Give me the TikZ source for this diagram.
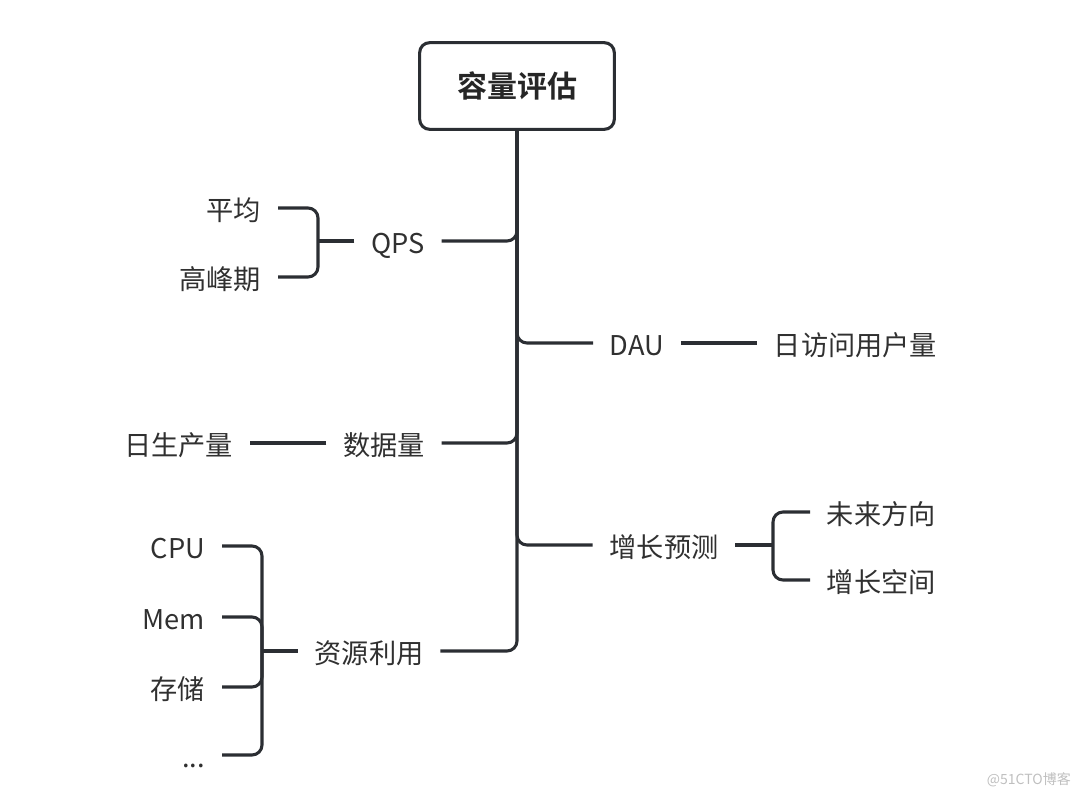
\documentclass[tikz,border=0pt]{standalone}
\usepackage{fontspec}
\newfontfamily\cjk{Noto Sans CJK SC}[BoldFont={Noto Sans CJK SC Bold}]
\usepackage{tikz}
\usepackage{xcolor}
\definecolor{ink}{HTML}{2B2E33}
\definecolor{txt}{HTML}{303030}

\begin{document}
\begin{tikzpicture}[x=0.75pt,y=-0.75pt,
  item/.style={font=\cjk\fontsize{20.4pt}{24pt}\selectfont,text=txt,inner xsep=12.5pt,inner ysep=0pt,text height=20pt,text depth=1pt},
  rootbox/.style={draw=ink,line width=2.3pt,rounded corners=7.5pt,minimum width=146pt,minimum height=65pt,font=\cjk\bfseries\fontsize{22.5pt}{26pt}\selectfont,text=black!85},
  link/.style={draw=ink,line width=2.3pt,rounded corners=7.5pt},
  wmark/.style={font=\cjk\fontsize{10.5pt}{12pt}\selectfont,text=black!25,inner sep=0pt}]
\useasboundingbox (0,0) rectangle (1080,798);
\node[rootbox](root) at (517,86) {容量评估};
%% branches
\node[item](qps) at (398,241) {QPS};
\node[item](dau) at (637,343) {DAU};
\node[item](data) at (384,443) {数据量};
\node[item](grow) at (664,545) {增长预测};
\node[item](res) at (369,651) {资源利用};
\draw[link](root.south) |- (qps.east);
\draw[link](root.south) |- (dau.west);
\draw[link](root.south) |- (data.east);
\draw[link](root.south) |- (grow.west);
\draw[link](root.south) |- (res.east);
%% QPS
\node[item,anchor=east](avg) at (278,208) {平均};
\node[item,anchor=east](peak) at (278,277) {高峰期};
\coordinate (qpsfork) at (318,241);
\draw[link](avg.east) -| (qpsfork) |- (peak.east);
\draw[link](qps.west) -- (qpsfork);
%% DAU
\node[item,anchor=west](visit) at (757,343) {日访问用户量};
\draw[link](dau.east) -- (visit.west);
%% data
\node[item,anchor=east](daily) at (250,443) {日生产量};
\draw[link](data.west) -- (daily.east);
%% growth
\node[item,anchor=west](future) at (810,512) {未来方向};
\node[item,anchor=west](space) at (810,580) {增长空间};
\coordinate (growfork) at (773,545);
\draw[link](future.west) -| (growfork) |- (space.west);
\draw[link](grow.east) -- (growfork);
%% resources
\node[item,anchor=east](cpu) at (222,546) {CPU};
\node[item,anchor=east](mem) at (222,617) {Mem};
\node[item,anchor=east](disk) at (222,687) {存储};
\node[item,anchor=east](more) at (222,755) {...};
\coordinate (resfork) at (262,651);
\draw[link](cpu.east) -| (resfork) |- (more.east);
\draw[link](mem.east) -| (resfork);
\draw[link](disk.east) -| (resfork);
\draw[link](res.west) -- (resfork);
\node[wmark,anchor=east](wm) at (1071,780) {@51CTO博客};
\end{tikzpicture}
\end{document}
